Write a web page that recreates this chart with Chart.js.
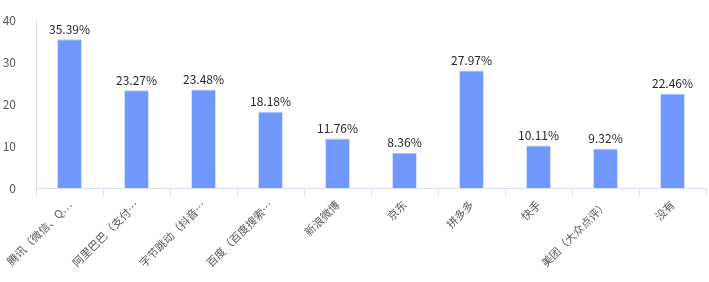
<!DOCTYPE html>
<html>
<head>
<meta charset="utf-8">
<script src="https://cdn.jsdelivr.net/npm/chart.js@4"></script>
<style>
  html, body { margin: 0; padding: 0; background: #fff; }
  .chart-container { position: relative; width: 709px; height: 282px; }
</style>
</head>
<body>
<div class="chart-container"><canvas id="chartBar"></canvas></div>
<script>
// datos
var categorias = ['腾讯（微信、Q…', '阿里巴巴（支付…', '字节跳动（抖音…', '百度（百度搜索…', '新浪微博', '京东', '拼多多', '快手', '美团（大众点评）', '没有'];
var porcentajes = [35.39, 23.27, 23.48, 18.18, 11.76, 8.36, 27.97, 10.11, 9.32, 22.46];
var ticksY = [0, 10, 20, 30, 40];

var fuente = '"Noto Sans CJK SC", "Noto Sans", sans-serif';

// etiquetas con el % encima de cada barra
var etiquetasBarras = {
    id: 'etiquetasBarras',
    afterDatasetsDraw: function (chart) {
        var ctx = chart.ctx;
        var meta = chart.getDatasetMeta(0);
        ctx.save();
        ctx.font = '12px ' + fuente;
        ctx.fillStyle = '#262626';
        ctx.textAlign = 'center';
        ctx.textBaseline = 'bottom';
        meta.data.forEach(function (bar, i) {
            ctx.fillText(porcentajes[i].toFixed(2) + '%', bar.x, bar.y - 4);
        });
        ctx.restore();
    }
};

var chartInstance = new Chart(document.getElementById('chartBar'), {
    type: 'bar',
    data: {
        labels: categorias,
        datasets: [{
            data: porcentajes,
            backgroundColor: '#7098fd',
            borderColor: '#a9c0fb',
            borderWidth: { top: 1, left: 0, right: 0, bottom: 0 },
            barPercentage: 0.72,
            categoryPercentage: 0.5
        }]
    },
    options: {
        responsive: true,
        maintainAspectRatio: false,
        animation: false,
        layout: { padding: { top: 20, right: 3, left: 0, bottom: 0 } },
        plugins: {
            legend: { display: false },
            tooltip: { enabled: false }
        },
        scales: {
            x: {
                grid: { display: true, drawOnChartArea: false, drawTicks: true, tickLength: 8, color: '#d9e1ee', offset: true },
                border: { display: true, color: '#d9e1ee' },
                ticks: {
                    minRotation: 45,
                    maxRotation: 45,
                    autoSkip: false,
                    color: '#595959',
                    font: { family: fuente, size: 11 },
                    padding: 2
                },
                afterFit: function (scale) { scale.height = 94; }
            },
            y: {
                min: 0,
                max: 40,
                afterBuildTicks: function (scale) {
                    scale.ticks = ticksY.map(function (v) { return { value: v }; });
                },
                grid: { display: false },
                border: { display: true, color: '#d9e1ee' },
                ticks: {
                    color: '#595959',
                    font: { family: fuente, size: 12 },
                    padding: 12
                },
                afterFit: function (scale) { scale.width = 36; }
            }
        }
    },
    plugins: [etiquetasBarras]
});
</script>
</body>
</html>
